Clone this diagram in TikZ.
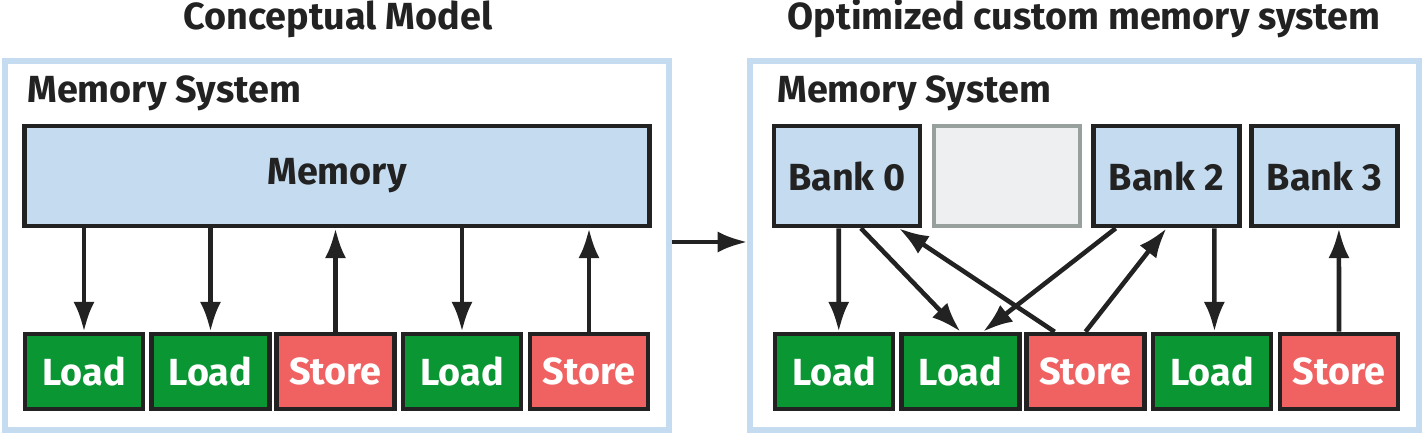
\documentclass[tikz,border=0pt]{standalone}
\usepackage{fontspec}
\setmainfont{Fira Sans}
\usetikzlibrary{arrows.meta}
\definecolor{memblue}{HTML}{C5DCF0}
\definecolor{ldgreen}{HTML}{0A9632}
\definecolor{stred}{HTML}{F06262}
\definecolor{idlegray}{HTML}{EEEFF1}
\definecolor{idleedge}{HTML}{98A09E}
\definecolor{inkdark}{HTML}{222222}

\begin{document}
\begin{tikzpicture}[x=0.02cm,y=-0.02cm]
\tikzstyle{every node}+=[inner sep=0pt, text=inkdark, font=\fontsize{21.5}{25}\selectfont\bfseries]
\tikzstyle{panel}=[draw=memblue, line width=3pt, minimum height=7.38cm]
\tikzstyle{membox}=[draw=inkdark, fill=memblue, line width=2.6pt, minimum height=2cm]
\tikzstyle{opbox}=[draw=inkdark, line width=2.6pt, text=white, minimum width=2.36cm, minimum height=1.5cm]
\tikzstyle{ld}=[opbox, fill=ldgreen]
\tikzstyle{st}=[opbox, fill=stred]
\tikzstyle{arr}=[draw=inkdark, line width=2.6pt, -{Latex[length=17pt,width=12pt]}]
\useasboundingbox (0,0) rectangle (1425,434);
% panels and titles
\node[panel, minimum width=13.28cm] (lsys) at (337,245.5) {};
\node[panel, minimum width=13.38cm] (rsys) at (1084.5,245.5) {};
\node[anchor=base] (ttl) at (338,29) {Conceptual Model};
\node[anchor=base] (ttr) at (1084,29) {Optimized custom memory system};
\node[anchor=base west] (lbl) at (27,102) {Memory System};
\node[anchor=base west] (lbr) at (777,102) {Memory System};
\draw[arr] ([yshift=2pt]lsys.east) -- ([yshift=2pt]rsys.west);
% conceptual model
\node[membox, minimum width=12.5cm] (mem) at (337,176) {Memory};
\node[ld] (l1) at (84,371.5) {Load};
\node[ld] (l2) at (210.5,371.5) {Load};
\node[st] (l3) at (335.5,371.5) {Store};
\node[ld] (l4) at (462,371.5) {Load};
\node[st] (l5) at (589,371.5) {Store};
\draw[arr] (mem.south -| l1) -- (l1);
\draw[arr] (mem.south -| l2) -- (l2);
\draw[arr] (l3) -- (mem.south -| l3);
\draw[arr] (mem.south -| l4) -- (l4);
\draw[arr] (l5) -- (mem.south -| l5);
% banked memory
\node[membox, minimum width=2.92cm] (b0) at (847,176) {Bank 0};
\node[membox, minimum width=2.92cm, draw=idleedge, fill=idlegray] (b1) at (1007,176) {};
\node[membox, minimum width=2.92cm] (b2) at (1166.5,176) {Bank 2};
\node[membox, minimum width=2.92cm] (b3) at (1324.5,176) {Bank 3};
\node[ld] (r1) at (834,371.5) {Load};
\node[ld] (r2) at (960.5,371.5) {Load};
\node[st] (r3) at (1085.5,371.5) {Store};
\node[ld] (r4) at (1212,371.5) {Load};
\node[st] (r5) at (1339,371.5) {Store};
\draw[arr] ([xshift=-4.7pt]b0.south) -- ([xshift=2.7pt]r1.north);
\draw[arr] ([xshift=7.9pt]b0.south) -- (r2.north);
\draw[arr] ([xshift=-17.6pt]r3.north) -- ([xshift=29.5pt]b0.south);
\draw[arr] ([xshift=-28.9pt]b2.south) -- ([xshift=12.8pt]r2.north);
\draw[arr] (r3.north) -- (b2.south);
\draw[arr] ([xshift=27.2pt]b2.south) -- ([xshift=1.4pt]r4.north);
\draw[arr] (r5.north) -- ([xshift=8.2pt]b3.south);
\end{tikzpicture}
\end{document}
